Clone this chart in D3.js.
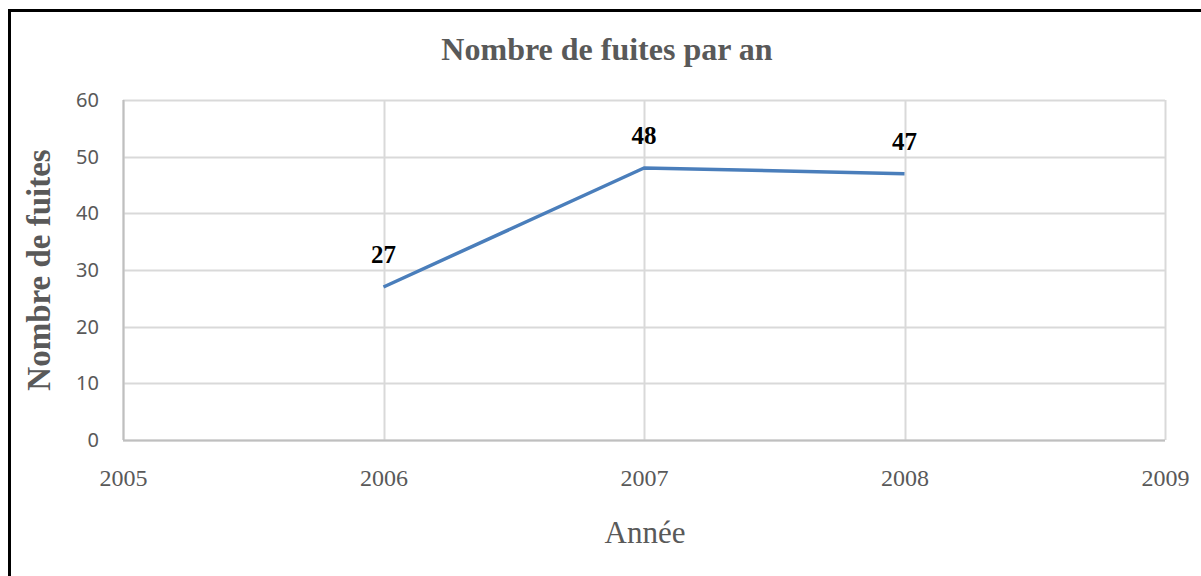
<!DOCTYPE html>
<html>
<head>
<meta charset="utf-8">
<script src="https://cdn.jsdelivr.net/npm/d3@7"></script>
<style>
  body { margin: 0; background: #fff; }
  svg { display: block; }
</style>
</head>
<body>
<div id="chart"></div>
<script>
// Data
const years = [2006, 2007, 2008];
const leaks = [27, 48, 47];
const xTicks = [2005, 2006, 2007, 2008, 2009];
const yTicks = [0, 10, 20, 30, 40, 50, 60];

const width = 1201, height = 576;
const margin = {top: 100, right: 36, bottom: 136, left: 123};

const svg = d3.select("#chart")
  .append("svg")
  .attr("width", width)
  .attr("height", height);

// Outer frame (only top and left edges visible in the shot)
svg.append("rect")
  .attr("x", 9.5).attr("y", 10.5)
  .attr("width", 1300).attr("height", 700)
  .attr("fill", "none")
  .attr("stroke", "#000")
  .attr("stroke-width", 3);

const x = d3.scaleLinear().domain([2005, 2009]).range([margin.left, width - margin.right]);
const y = d3.scaleLinear().domain([0, 60]).range([height - margin.bottom, margin.top]);

// Grid
const grid = svg.append("g").attr("class", "grid");
grid.selectAll(".hline")
  .data(yTicks)
  .enter().append("line")
  .attr("x1", x(2005)).attr("x2", x(2009))
  .attr("y1", d => Math.round(y(d)) + 0.5)
  .attr("y2", d => Math.round(y(d)) + 0.5)
  .attr("stroke", "#d9d9d9")
  .attr("stroke-width", 2);
grid.selectAll(".vline")
  .data(xTicks)
  .enter().append("line")
  .attr("x1", d => Math.round(x(d)) + 0.5)
  .attr("x2", d => Math.round(x(d)) + 0.5)
  .attr("y1", y(60)).attr("y2", y(0))
  .attr("stroke", "#d9d9d9")
  .attr("stroke-width", 2);

// Axis lines
svg.append("line")
  .attr("x1", x(2005)).attr("x2", x(2009))
  .attr("y1", Math.round(y(0)) + 0.5).attr("y2", Math.round(y(0)) + 0.5)
  .attr("stroke", "#bfbfbf").attr("stroke-width", 2);
svg.append("line")
  .attr("x1", Math.round(x(2005)) + 0.5).attr("x2", Math.round(x(2005)) + 0.5)
  .attr("y1", y(60)).attr("y2", y(0))
  .attr("stroke", "#bfbfbf").attr("stroke-width", 2);

// Axes (labels only)
const yAxis = svg.append("g")
  .attr("transform", `translate(${margin.left},0)`)
  .call(d3.axisLeft(y).tickValues(yTicks).tickSize(0).tickPadding(24));
yAxis.select(".domain").remove();
yAxis.selectAll("text")
  .attr("fill", "#595959")
  .style("font-family", "'Noto Sans', sans-serif")
  .style("font-size", "20px");

const xAxis = svg.append("g")
  .attr("transform", `translate(0,${y(0)})`)
  .call(d3.axisBottom(x).tickValues(xTicks).tickFormat(d3.format("d")).tickSize(0).tickPadding(29));
xAxis.select(".domain").remove();
xAxis.selectAll("text")
  .attr("fill", "#595959")
  .style("font-family", "'Liberation Serif', serif")
  .style("font-size", "24px");

// Line
const pts = years.map((yr, i) => ({year: yr, value: leaks[i]}));
svg.append("path")
  .datum(pts)
  .attr("fill", "none")
  .attr("stroke", "#4a7ebb")
  .attr("stroke-width", 3.5)
  .attr("stroke-linejoin", "round")
  .attr("d", d3.line().x(d => x(d.year)).y(d => y(d.value)));

// Data labels
svg.selectAll(".dlabel")
  .data(pts)
  .enter().append("text")
  .attr("x", d => x(d.year))
  .attr("y", d => y(d.value) - 24)
  .attr("text-anchor", "middle")
  .style("font-family", "'Liberation Serif', serif")
  .style("font-weight", "bold")
  .style("font-size", "25px")
  .attr("fill", "#000")
  .text(d => d.value);

// Title
svg.append("text")
  .attr("x", 607).attr("y", 60)
  .attr("text-anchor", "middle")
  .style("font-family", "'Liberation Serif', serif")
  .style("font-weight", "bold")
  .style("font-size", "32px")
  .attr("fill", "#595959")
  .text("Nombre de fuites par an");

// Axis titles
svg.append("text")
  .attr("transform", `translate(50,${(y(0) + y(60)) / 2}) rotate(-90)`)
  .attr("text-anchor", "middle")
  .style("font-family", "'Liberation Serif', serif")
  .style("font-weight", "bold")
  .style("font-size", "33px")
  .attr("fill", "#595959")
  .text("Nombre de fuites");

svg.append("text")
  .attr("x", 645).attr("y", 543)
  .attr("text-anchor", "middle")
  .style("font-family", "'Liberation Serif', serif")
  .style("font-size", "31px")
  .attr("fill", "#595959")
  .text("Année");
</script>
</body>
</html>
